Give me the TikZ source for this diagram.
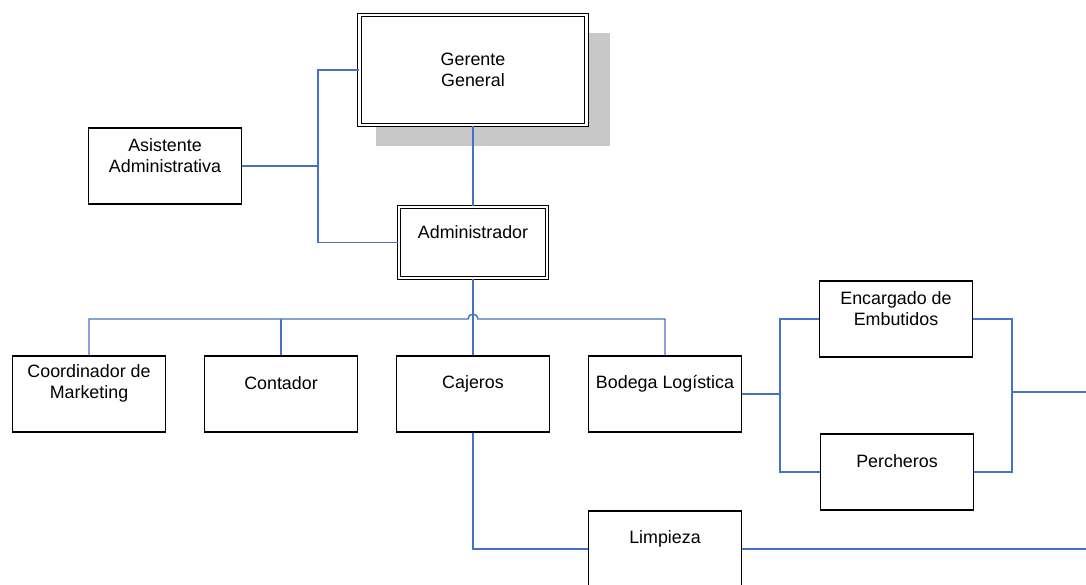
\documentclass[tikz,border=0pt]{standalone}
\usepackage{fontspec}
\setmainfont{Liberation Sans}
\usetikzlibrary{shadows}
\definecolor{wireblue}{RGB}{68,114,196}
\definecolor{shadowgray}{RGB}{200,200,200}
\tikzstyle{unit}=[draw,fill=white,line width=0.9pt,minimum width=3.825cm,minimum height=1.9cm,inner sep=0pt]
\tikzstyle{chief}=[unit,double,double distance=1.6pt,line width=0.9pt]
\tikzstyle{txt}=[font=\fontsize{12.7}{15}\selectfont,align=center]
\tikzstyle{boxtxt}=[txt,yshift=0.26cm]
\tikzstyle{wire}=[draw=wireblue,line width=1pt]

\begin{document}
\begin{tikzpicture}[x=0.025cm,y=-0.025cm]
    \useasboundingbox (0,0) rectangle (1086,585);
    % top of the chart
    \node[chief,minimum width=5.675cm,minimum height=2.75cm,
          drop shadow={shadow xshift=0.475cm,shadow yshift=-0.475cm,shadow scale=1.03,fill=shadowgray,opacity=1},
          label={[txt]center:{Gerente\\General}}] (ger) at (473,70) {};
    \node[unit,label={[boxtxt]center:{Asistente\\Administrativa}}] (asis) at (165,166) {};
    \node[chief,minimum width=3.7cm,minimum height=1.775cm,
          label={[boxtxt]center:Administrador}] (admin) at (473,242.5) {};

    % second level
    \node[unit,label={[boxtxt]center:{Coordinador de\\Marketing}}] (coord) at (89,394) {};
    \node[unit,label={[boxtxt]center:Contador}] (cont) at (281,394) {};
    \node[unit,label={[boxtxt]center:Cajeros}] (caj) at (473,394) {};
    \node[unit,label={[boxtxt]center:Bodega Logística}] (bod) at (665,394) {};
    \node[unit,label={[boxtxt]center:{Encargado de\\Embutidos}}] (enc) at (896,319) {};
    \node[unit,label={[boxtxt]center:Percheros}] (perch) at (897,472) {};
    \node[unit,label={[boxtxt]center:Limpieza}] (limp) at (665,549) {};

    % joints
    \coordinate (lj) at (318,166);
    \coordinate (hop) at (473,319);
    \coordinate (bj) at (780,394);
    \coordinate (ej) at (1012,392);
    \coordinate (eout) at (1086,392);
    \coordinate (lout) at (1086,549);

    \draw[wire] (asis.east) -- (lj);
    \draw[wire] (ger.west) -| (lj) |- (admin.west);
    \draw[wire] (ger.south) -- (admin.north);
    \draw[wire] (admin.south) -- (caj.north);
    \draw[wire] (coord.north) |- (468,319) arc[start angle=180,end angle=0,radius=0.125cm] -| (bod.north);
    \draw[wire] (cont.north) -- (cont.north |- hop);
    \draw[wire] (bod.east) -- (bj);
    \draw[wire] (enc.west) -| (bj) |- (perch.west);
    \draw[wire] (enc.east) -| (ej) |- (perch.east);
    \draw[wire] (ej) -- (eout);
    \draw[wire] (caj.south) |- (limp.west);
    \draw[wire] (limp.east) -- (lout);
\end{tikzpicture}
\end{document}
